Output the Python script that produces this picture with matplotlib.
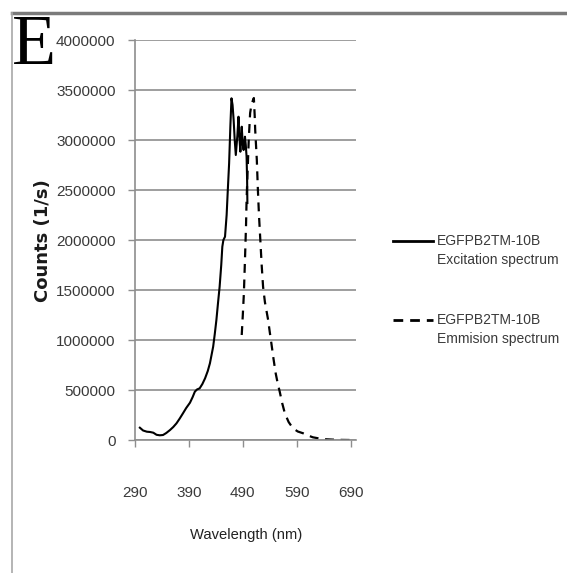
import matplotlib
matplotlib.use('Agg')
import matplotlib.pyplot as plt
from matplotlib.lines import Line2D

# excitation spectrum (solid)
exc_wl = [299, 305, 312, 318, 324, 330, 336, 342, 348, 355, 361, 367, 373, 379,
          385, 392, 397, 401, 405, 410, 415, 420, 425, 429, 432, 435, 438, 441,
          444, 447, 450, 452, 454, 457, 460, 462, 464.6, 467, 469, 471, 473, 475,
          477, 480, 482, 484, 485.5, 488, 490, 491.5, 494, 495.5, 497, 498, 498.5]
exc_counts = [123000, 95000, 83000, 80000, 73000, 52000, 47000, 50000, 70000,
              100000, 130000, 167000, 215000, 267000, 320000, 373000, 430000,
              483000, 505000, 517000, 560000, 617000, 690000, 767000, 850000,
              933000, 1060000, 1200000, 1370000, 1533000, 1750000, 1933000,
              2000000, 2033000, 2250000, 2480000, 2767000, 3150000, 3417000,
              3350000, 3200000, 3000000, 2850000, 3050000, 3233000, 3000000,
              2883000, 3133000, 2950000, 2900000, 3033000, 2950000, 2833000,
              2600000, 2370000]

# emission spectrum (dashed)
em_wl = [488, 490, 492, 494, 496, 497, 499, 501, 503.6, 506, 509, 510.5, 512,
         513, 515, 516, 518, 520, 522, 525, 527.6, 531, 534, 537, 540, 543, 547,
         551, 555, 558.5, 563, 568, 575, 583, 592, 602, 611, 620, 632, 645, 660,
         675, 690]
em_counts = [1050000, 1250000, 1467000, 1800000, 2150000, 2400000, 2700000,
             3000000, 3270000, 3350000, 3400000, 3420000, 3250000, 3100000,
             2900000, 2800000, 2500000, 2250000, 2050000, 1750000, 1533000,
             1380000, 1290000, 1200000, 1080000, 967000, 810000, 667000, 560000,
             483000, 370000, 267000, 180000, 117000, 85000, 67000, 45000, 27000,
             15000, 7000, 3000, 1000, 0]

x_ticks = [290, 390, 490, 590, 690]
y_ticks = [0, 500000, 1000000, 1500000, 2000000, 2500000, 3000000, 3500000, 4000000]

legend_names = ['EGFPB2TM-10B', 'EGFPB2TM-10B']
legend_desc = ['Excitation spectrum', 'Emmision spectrum']

sans = 'Liberation Sans'
W, H = 567, 573
fig = plt.figure(figsize=(W / 100, H / 100), dpi=100)

ax = fig.add_axes([135 / W, 1 - 440 / H, 221 / W, 400 / H])
grid_c = '#8e8e8e'
text_c = '#3a3a3a'

ax.plot(exc_wl, exc_counts, color='black', lw=1.5)
ax.plot(em_wl, em_counts, color='black', lw=1.6, dashes=(4, 3))

ax.set_xlim(290, 700)
ax.set_ylim(0, 4000000)
ax.set_xticks(x_ticks)
ax.set_yticks(y_ticks)
ax.set_xticklabels([str(v) for v in x_ticks], family=sans, fontsize=11, color=text_c)
ax.set_yticklabels([str(v) for v in y_ticks], family=sans, fontsize=11, color=text_c)
ax.tick_params(axis='x', length=5, width=1, color=grid_c, pad=28)
ax.tick_params(axis='y', length=5, width=1, color=grid_c, pad=9)

ax.yaxis.grid(True, color=grid_c, lw=1.2)
ax.set_axisbelow(True)
for s in ['top', 'right']:
    ax.spines[s].set_visible(False)
for s in ['left', 'bottom']:
    ax.spines[s].set_color(grid_c)
    ax.spines[s].set_linewidth(1.2)

fig.text(43 / W, 1 - 241 / H, 'Counts (1/s)', rotation=90, ha='center', va='center',
         fontsize=13, fontweight='bold', family='DejaVu Sans', color='#1a1a1a')
fig.text(246 / W, 1 - 535 / H, 'Wavelength (nm)', ha='center', va='center',
         family=sans, fontsize=10.6, color='#222222')

# legend drawn by hand so the line sits on the first text row
styles = [dict(), dict(dashes=(3.5, 2.5))]
rows = [241, 320]
for name, desc, st, y in zip(legend_names, legend_desc, styles, rows):
    fig.add_artist(Line2D([393 / W, 433 / W], [1 - y / H, 1 - y / H],
                          color='black', lw=2, transform=fig.transFigure, **st))
    fig.text(437 / W, 1 - y / H, name, ha='left', va='center',
             family=sans, fontsize=10, color=text_c)
    fig.text(437 / W, 1 - (y + 19) / H, desc, ha='left', va='center',
             family=sans, fontsize=10, color=text_c)

# panel frame and letter
fig.add_artist(Line2D([12 / W, 1], [1 - 13 / H, 1 - 13 / H], color='#7a7a7a', lw=2.5,
                      transform=fig.transFigure))
fig.add_artist(Line2D([12 / W, 12 / W], [0, 1 - 13 / H], color='#a8a8a8', lw=1.2,
                      transform=fig.transFigure))
fig.text(12 / W, 1 - 64 / H, 'E', ha='left', va='baseline', fontsize=52,
         family='Liberation Serif', color='black')

fig.savefig('out.png', dpi=100)
